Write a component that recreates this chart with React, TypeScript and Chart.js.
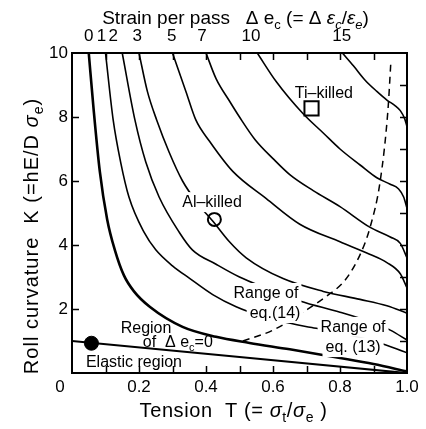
import React, { useEffect, useRef } from 'react';
import { Chart, registerables } from 'chart.js';

Chart.register(...registerables);

const FONT = '"Liberation Sans", Arial, Helvetica, sans-serif';

// ---- axis tick data ----
const strainLabels = ['0', '1', '2', '3', '5', '7', '10', '15'];
const strainLabelPos = [0.05, 0.088, 0.123, 0.195, 0.298, 0.388, 0.534, 0.805];
const tensionLabelVals = [0.2, 0.4, 0.6, 0.8, 1.0];
const tensionLabels = ['0.2', '0.4', '0.6', '0.8', '1.0'];
const tensionMarks = [0.1, 0.2, 0.3, 0.4, 0.5, 0.6, 0.7, 0.8, 0.9];
const curvatureLabelVals = [2, 4, 6, 8, 10];
const curvatureLabels = ['2', '4', '6', '8', '10'];
const curvatureLeftMarks = [2, 4, 6, 8];
const curvatureRightMarks = [1, 2, 3, 4, 5, 6, 7, 8, 9];

// ---- curves of constant strain per pass (T, K) ----
const c0T = [0.05, 0.064, 0.083, 0.105, 0.128, 0.155, 0.185, 0.233, 0.33, 0.43, 0.53, 0.65, 0.8, 0.9, 1.0];
const c0K = [10, 8.3, 6.3, 4.8, 3.84, 3.05, 2.55, 2.06, 1.44, 1.13, 0.94, 0.74, 0.47, 0.28, 0.05];
const c1T = [0.1, 0.123, 0.145, 0.17, 0.215, 0.25, 0.3, 0.352, 0.42, 0.49, 0.56, 0.63, 0.716, 0.8, 0.91, 1.0];
const c1K = [10, 7.9, 6.6, 5.5, 4.4, 3.85, 3.35, 2.95, 2.45, 2.07, 1.8, 1.6, 1.42, 1.25, 0.97, 0.63];
const c2T = [0.15, 0.188, 0.22, 0.26, 0.32, 0.36, 0.43, 0.5, 0.58, 0.68, 0.8, 0.89, 0.95, 1.0];
const c2K = [10, 7.9, 6.6, 5.5, 4.4, 3.84, 3.4, 3.0, 2.65, 2.25, 1.9, 1.6, 1.34, 1.03];
const c3T = [0.2, 0.225, 0.253, 0.29, 0.33, 0.375, 0.42, 0.47, 0.52, 0.63, 0.75, 0.86, 0.94, 1.0];
const c3K = [10, 8.8, 7.9, 6.9, 6.0, 5.3, 4.75, 4.1, 3.6, 2.95, 2.55, 2.3, 2.1, 1.87];
const c5T = [0.3, 0.34, 0.37, 0.41, 0.48, 0.58, 0.68, 0.8, 0.88, 0.94, 0.98, 1.0];
const c5K = [10, 8.8, 7.9, 7.25, 6.3, 5.45, 4.65, 4.1, 3.75, 3.45, 3.1, 2.66];
const c7T = [0.4, 0.43, 0.47, 0.5, 0.546, 0.6, 0.65, 0.72, 0.8, 0.89, 0.95, 0.98, 1.0];
const c7K = [10, 9.2, 8.5, 8.0, 7.3, 6.7, 6.2, 5.7, 5.2, 4.55, 4.25, 4.05, 3.6];
const c10T = [0.553, 0.61, 0.69, 0.75, 0.8, 0.86, 0.91, 0.95, 0.975, 0.99, 1.0];
const c10K = [10, 9.1, 8.1, 7.5, 7.0, 6.5, 6.1, 5.9, 5.75, 5.5, 5.15];
const c15T = [0.807, 0.84, 0.875, 0.91, 0.94, 0.965, 0.98, 0.993, 1.0];
const c15K = [10, 9.6, 9.15, 8.8, 8.53, 8.35, 8.2, 7.95, 7.7];

// boundary of the range of eq.(14)/(13) (dashed)
const rangeT = [0.51, 0.6, 0.7, 0.76, 0.815, 0.86, 0.89, 0.92, 0.943, 0.952];
const rangeK = [1.0, 1.34, 1.97, 2.4, 2.9, 3.7, 4.56, 6.0, 8.2, 9.75];

// elastic limit line
const elasticT = [0, 1.0];
const elasticK = [1.0, 0];

// material points
const elasticPoint = { T: 0.058, K: 0.93 };
const alKilled = { T: 0.425, K: 4.8 };
const tiKilled = { T: 0.715, K: 8.27 };

type Part = { t: string; it?: boolean; sub?: boolean };

const pts = (T: number[], K: number[]) => T.map((t, i) => ({ x: t, y: K[i] }));

function partFont(p: Part, size: number) {
  const s = p.sub ? Math.round(size * 0.7) : size;
  return `${p.it ? 'italic ' : ''}${s}px ${FONT}`;
}
function measureParts(ctx: CanvasRenderingContext2D, parts: Part[], size: number) {
  let w = 0;
  for (const p of parts) {
    ctx.font = partFont(p, size);
    w += ctx.measureText(p.t).width;
  }
  return w;
}
function drawParts(ctx: CanvasRenderingContext2D, parts: Part[], x: number, y: number, size: number) {
  const w = measureParts(ctx, parts, size);
  let cx = x - w / 2;
  ctx.textAlign = 'left';
  ctx.textBaseline = 'alphabetic';
  for (const p of parts) {
    ctx.font = partFont(p, size);
    ctx.fillText(p.t, cx, p.sub ? y + size * 0.25 : y);
    cx += ctx.measureText(p.t).width;
  }
}

const annotations: { parts: Part[]; T: number; K: number; box: boolean }[] = [
  { parts: [{ t: 'Ti–killed' }], T: 0.752, K: 8.75, box: false },
  { parts: [{ t: 'Al–killed' }], T: 0.418, K: 5.34, box: true },
  { parts: [{ t: 'Range of' }], T: 0.579, K: 2.5, box: true },
  { parts: [{ t: 'eq.(14)' }], T: 0.606, K: 1.875, box: true },
  { parts: [{ t: 'Range of' }], T: 0.839, K: 1.44, box: true },
  { parts: [{ t: 'eq. (13)' }], T: 0.839, K: 0.81, box: true },
  { parts: [{ t: 'Region' }], T: 0.221, K: 1.41, box: false },
  { parts: [{ t: 'of  Δ e' }, { t: 'c', sub: true }, { t: '=0' }], T: 0.316, K: 0.97, box: false },
  { parts: [{ t: 'Elastic region' }], T: 0.185, K: 0.34, box: false },
];

const topTitle: Part[] = [
  { t: 'Strain per pass   Δ e' }, { t: 'c', sub: true }, { t: ' (= Δ ' }, { t: 'ε', it: true },
  { t: 'c', sub: true, it: true }, { t: '/' }, { t: 'ε', it: true }, { t: 'e', sub: true, it: true }, { t: ')' },
];
const bottomTitle: Part[] = [
  { t: 'Tension  T (= ' }, { t: 'σ', it: true }, { t: 't', sub: true }, { t: '/' },
  { t: 'σ', it: true }, { t: 'e', sub: true }, { t: ' )' },
];
const leftTitle: Part[] = [
  { t: 'Roll curvature  K (=hE/D ' }, { t: 'σ', it: true }, { t: 'e', sub: true }, { t: ')' },
];

const decor = {
  id: 'decor',
  afterDatasetsDraw(chart: any) {
    const ctx: CanvasRenderingContext2D = chart.ctx;
    const xs = chart.scales.x;
    const ys = chart.scales.y;
    const size = 16;
    ctx.save();
    for (const a of annotations) {
      if (!a.box) continue;
      const cx = xs.getPixelForValue(a.T);
      const cy = ys.getPixelForValue(a.K);
      const w = measureParts(ctx, a.parts, size);
      ctx.fillStyle = '#fff';
      ctx.fillRect(cx - w / 2 - 3, cy - 10, w + 6, 20);
    }
    ctx.fillStyle = '#000';
    for (const a of annotations) {
      const cx = xs.getPixelForValue(a.T);
      const cy = ys.getPixelForValue(a.K);
      drawParts(ctx, a.parts, cx, cy + 5, size);
    }
    ctx.restore();
  },
  afterDraw(chart: any) {
    const ctx: CanvasRenderingContext2D = chart.ctx;
    const { left, right, top, bottom } = chart.chartArea;
    const xs = chart.scales.x;
    const ys = chart.scales.y;
    ctx.save();
    ctx.strokeStyle = '#000';
    ctx.lineWidth = 1.5;
    const L = 7;
    ctx.beginPath();
    for (const v of tensionMarks) {
      const px = Math.round(xs.getPixelForValue(v)) + 0.5;
      ctx.moveTo(px, bottom); ctx.lineTo(px, bottom - L);
      ctx.moveTo(px, top); ctx.lineTo(px, top + L);
    }
    for (const v of curvatureLeftMarks) {
      const py = Math.round(ys.getPixelForValue(v)) + 0.5;
      ctx.moveTo(left, py); ctx.lineTo(left + L, py);
    }
    for (const v of curvatureRightMarks) {
      const py = Math.round(ys.getPixelForValue(v)) + 0.5;
      ctx.moveTo(right, py); ctx.lineTo(right - L, py);
    }
    ctx.stroke();
    ctx.lineWidth = 2;
    ctx.strokeRect(left, top, right - left, bottom - top);

    ctx.fillStyle = '#000';
    ctx.font = `17px ${FONT}`;
    ctx.textAlign = 'center';
    ctx.textBaseline = 'middle';
    ctx.fillText('0', xs.getPixelForValue(0) - 12, bottom + 14);

    drawParts(ctx, topTitle, (left + right) / 2 - 4, 24, 19);
    (ctx as any).letterSpacing = '0.6px';
    drawParts(ctx, bottomTitle, (left + right) / 2 - 6, 417, 20);
    (ctx as any).letterSpacing = '1px';
    ctx.translate(38, 236);
    ctx.rotate(-Math.PI / 2);
    drawParts(ctx, leftTitle, 0, 0, 20);
    (ctx as any).letterSpacing = '0px';
    ctx.restore();
  },
};

export default function App() {
  const ref = useRef<HTMLCanvasElement | null>(null);

  useEffect(() => {
    if (!ref.current) return;
    Chart.defaults.font.family = FONT;
    Chart.defaults.color = '#000';
    const line = (T: number[], K: number[], w: number, dash: number[] = []) => ({
      type: 'scatter' as const,
      data: pts(T, K),
      showLine: true,
      borderColor: '#000',
      borderWidth: w,
      borderDash: dash,
      pointRadius: 0,
      pointHoverRadius: 0,
      cubicInterpolationMode: 'monotone' as const,
      fill: false,
    });
    const chart = new Chart(ref.current, {
      type: 'scatter',
      data: {
        datasets: [
          line(c0T, c0K, 2.6),
          line(c1T, c1K, 1.6),
          line(c2T, c2K, 1.6),
          line(c3T, c3K, 1.6),
          line(c5T, c5K, 1.6),
          line(c7T, c7K, 1.6),
          line(c10T, c10K, 1.6),
          line(c15T, c15K, 1.6),
          line(rangeT, rangeK, 1.5, [7, 5]),
          line(elasticT, elasticK, 2.2),
          {
            type: 'scatter' as const,
            data: [{ x: elasticPoint.T, y: elasticPoint.K }],
            pointStyle: 'circle',
            pointRadius: 7,
            backgroundColor: '#000',
            borderColor: '#000',
            borderWidth: 1,
          },
          {
            type: 'scatter' as const,
            data: [{ x: alKilled.T, y: alKilled.K }],
            pointStyle: 'circle',
            pointRadius: 6.5,
            backgroundColor: 'rgba(0,0,0,0)',
            borderColor: '#000',
            borderWidth: 2,
          },
          {
            type: 'scatter' as const,
            data: [{ x: tiKilled.T, y: tiKilled.K }],
            pointStyle: 'rect',
            pointRadius: 10,
            backgroundColor: 'rgba(0,0,0,0)',
            borderColor: '#000',
            borderWidth: 2,
          },
        ] as any,
      },
      options: {
        responsive: false,
        animation: false,
        devicePixelRatio: 1,
        layout: { padding: { left: 0, right: 19, top: 0, bottom: 0 } },
        plugins: { legend: { display: false }, tooltip: { enabled: false } },
        events: [],
        scales: {
          x: {
            type: 'linear',
            position: 'bottom',
            min: 0,
            max: 1,
            grid: { display: false, drawTicks: false },
            border: { display: false },
            afterBuildTicks: (s: any) => { s.ticks = tensionLabelVals.map((v) => ({ value: v })); },
            afterFit: (s: any) => { s.height = 56; },
            ticks: {
              autoSkip: false,
              maxRotation: 0,
              minRotation: 0,
              padding: 4,
              font: { size: 17 },
              color: '#000',
              callback: (_v: any, i: number) => tensionLabels[i],
            },
          },
          x2: {
            type: 'linear',
            position: 'top',
            min: 0,
            max: 1,
            grid: { display: false, drawTicks: false },
            border: { display: false },
            afterBuildTicks: (s: any) => { s.ticks = strainLabelPos.map((v) => ({ value: v })); },
            afterFit: (s: any) => { s.height = 53; },
            ticks: {
              autoSkip: false,
              maxRotation: 0,
              minRotation: 0,
              padding: 6,
              font: { size: 17 },
              color: '#000',
              callback: (_v: any, i: number) => strainLabels[i],
            },
          },
          y: {
            type: 'linear',
            position: 'left',
            min: 0,
            max: 10,
            grid: { display: false, drawTicks: false },
            border: { display: false },
            afterBuildTicks: (s: any) => { s.ticks = curvatureLabelVals.map((v) => ({ value: v })); },
            afterFit: (s: any) => { s.width = 72; },
            ticks: {
              autoSkip: false,
              padding: 4,
              font: { size: 17 },
              color: '#000',
              callback: (_v: any, i: number) => curvatureLabels[i],
            },
          },
        },
      } as any,
      plugins: [decor],
    });
    return () => chart.destroy();
  }, []);

  return (
    <div style={{ position: 'absolute', left: 0, top: 0, width: 426, height: 429, background: '#fff' }}>
      <canvas ref={ref} width={426} height={429} style={{ width: 426, height: 429, display: 'block' }} />
    </div>
  );
}
